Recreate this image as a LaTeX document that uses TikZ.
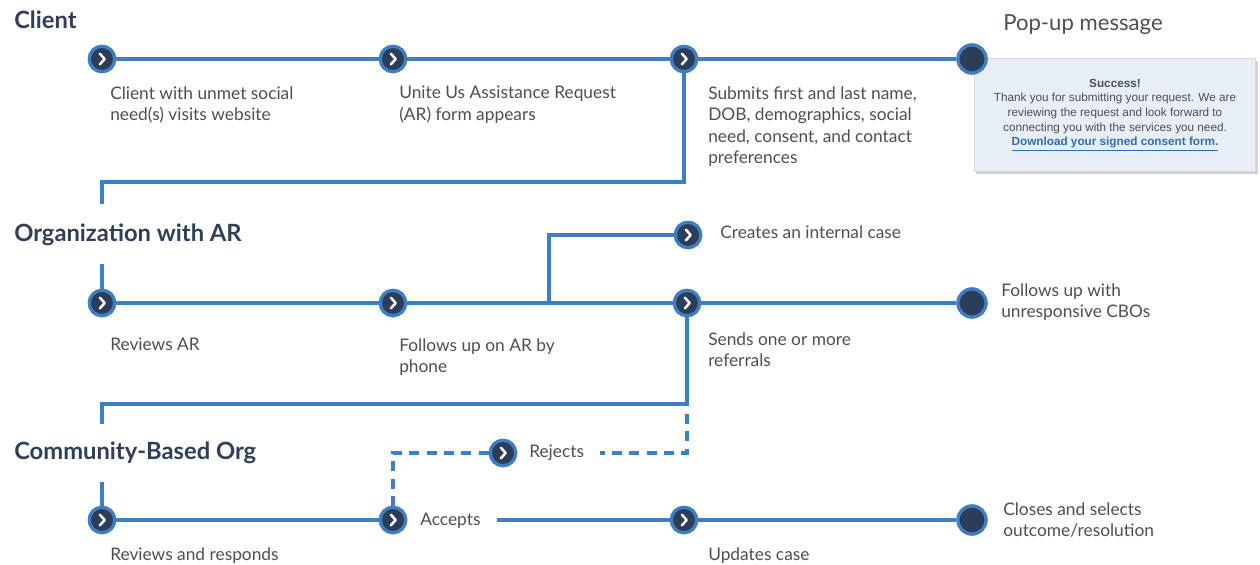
\documentclass[tikz,border=0pt]{standalone}
\usepackage{fontspec}
\setmainfont{Lato}
\newfontfamily\popfont{Liberation Sans}
\usetikzlibrary{shadows}
\definecolor{lineblue}{HTML}{3F7EC1}
\definecolor{navy}{HTML}{2B3D59}
\definecolor{textgray}{HTML}{4B4F56}
\definecolor{headcol}{HTML}{2E3F56}
\definecolor{popfill}{HTML}{E7EEF6}
\definecolor{linkblue}{HTML}{2F6DB5}
\begin{document}
\begin{tikzpicture}[x=0.75pt,y=-0.75pt,
  conn/.style={draw=lineblue, line width=2.3pt},
  dconn/.style={draw=lineblue, line width=2.3pt, dash pattern=on 7.5pt off 5.5pt},
  stepnode/.style={circle, fill=navy, draw=lineblue, line width=2.4pt, minimum size=19pt, inner sep=0pt,
    path picture={\draw[white, line width=1.9pt, line cap=round, line join=round]
      ([shift={(-1.6pt,4pt)}]path picture bounding box.center) -- ++(3.6pt,-4pt) -- ++(-3.6pt,-4pt);}},
  endnode/.style={circle, fill=navy, draw=lineblue, line width=2.4pt, minimum size=21pt, inner sep=0pt},
  lbl/.style={anchor=north west, inner sep=0pt, align=left, text=textgray, font=\fontsize{13}{16.2}\selectfont},
  head/.style={anchor=north west, inner sep=0pt, text=headcol, font=\fontsize{17.8}{20}\selectfont\bfseries},
  popbox/.style={draw=black!15, fill=popfill, minimum width=211pt, minimum height=85pt, align=center,
    text=textgray, font=\popfont\fontsize{8.8}{11}\selectfont, drop shadow={opacity=0.35, shadow xshift=1.5pt, shadow yshift=-2pt}}
]
\useasboundingbox[fill=white] (0,0) rectangle (1260,564);

% headings
\node[head] (hclient) at (14,11) {Client};
\node[head] (horg) at (14,224) {Organization with AR};
\node[head] (hcbo) at (14,442) {Community-Based Org};
\node[anchor=north west, inner sep=0pt, text=textgray, font=\fontsize{16.6}{19}\selectfont] (hpop) at (1003,14) {Pop-up message};

% popup
\node[popbox] (pop) at (1115,115) {\textbf{Success!}\\Thank you for submitting your request. We are\\reviewing the request and look forward to\\connecting you with the services you need.\\\textcolor{linkblue}{\textbf{\underline{Download your signed consent form.}}}};

% row 1
\node[stepnode] (a1) at (102,59) {};
\node[stepnode] (a2) at (393,59) {};
\node[stepnode] (a3) at (684,59) {};
\node[endnode] (a4) at (972,59) {};
\node[lbl] (la1) at (110,86) {Client with unmet social\\need(s) visits website};
\node[lbl] (la2) at (399,86) {Unite Us Assistance Request\\(AR) form appears};
\node[lbl] (la3) at (708,86) {Submits first and last name,\\DOB, demographics, social\\need, consent, and contact\\preferences};

% row 2
\node[stepnode] (b1) at (102,303) {};
\node[stepnode] (b2) at (393,303) {};
\node[stepnode] (b3) at (687,303) {};
\node[endnode] (b4) at (972,303) {};
\node[stepnode] (bx) at (688,235) {};
\node[lbl] (lb1) at (110,338) {Reviews AR};
\node[lbl] (lb2) at (399,338) {Follows up on AR by\\phone};
\node[lbl] (lb3) at (708,332) {Sends one or more\\referrals};
\node[lbl] (lbx) at (720,225) {Creates an internal case};
\node[lbl] (lb4) at (1001,283) {Follows up with\\unresponsive CBOs};

% row 3
\node[stepnode] (c1) at (102,520) {};
\node[stepnode] (c2) at (393,520) {};
\node[stepnode] (c3) at (684,520) {};
\node[endnode] (c4) at (972,520) {};
\node[stepnode] (r1) at (503,453) {};
\node[lbl, anchor=west] (lrej) at (529,453) {Rejects};
\node[lbl, anchor=west] (lacc) at (420,521) {Accepts};
\node[lbl] (lc1) at (110,547) {Reviews and responds};
\node[lbl] (lc3) at (708,547) {Updates case};
\node[lbl] (lc4) at (1003,502) {Closes and selects\\outcome/resolution};

% coordinates
\coordinate (k1) at (102,182);
\coordinate (k2) at (102,204);
\coordinate (k3) at (102,264);
\coordinate (k5) at (102,404);
\coordinate (k6) at (102,424);
\coordinate (k7) at (687,414);
\coordinate (k8) at (102,482);
\coordinate (j1) at (549,303);

% connectors
\draw[conn] (a1) -- (a2);
\draw[conn] (a2) -- (a3);
\draw[conn] (a3) -- (a4);
\draw[conn] (a3) |- (k1) -- (k2);
\draw[conn] (k3) -- (b1);
\draw[conn] (b1) -- (b2);
\draw[conn] (b2) -- (b3);
\draw[conn] (b3) -- (b4);
\draw[conn] (j1) |- (bx);
\draw[conn] (b3) |- (k5) -- (k6);
\draw[dconn] (k7) |- ([xshift=12pt]lrej.east |- r1);
\draw[dconn] (r1) -| (c2);
\draw[conn] (k8) -- (c1);
\draw[conn] (c1) -- (c2);
\draw[conn] ([xshift=12pt]lacc.east |- c3) -- (c3);
\draw[conn] (c3) -- (c4);

% redraw nodes on top
\foreach \p in {(102,59),(393,59),(684,59),(102,303),(393,303),(687,303),(688,235),(102,520),(393,520),(684,520),(503,453)}{
  \node[stepnode] at \p {};
}
\foreach \p in {(972,59),(972,303),(972,520)}{
  \node[endnode] at \p {};
}
\end{tikzpicture}
\end{document}
